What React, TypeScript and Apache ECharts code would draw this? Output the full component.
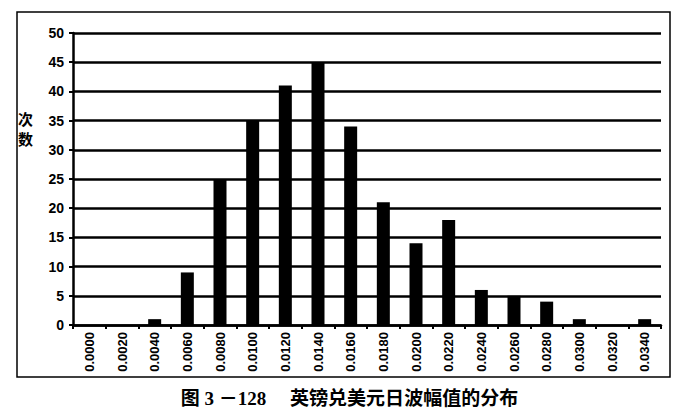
import * as echarts from "echarts";
import React, { useEffect, useRef } from "react";

const categories = [
  "0.0000", "0.0020", "0.0040", "0.0060", "0.0080", "0.0100",
  "0.0120", "0.0140", "0.0160", "0.0180", "0.0200", "0.0220",
  "0.0240", "0.0260", "0.0280", "0.0300", "0.0320", "0.0340",
];
const counts = [0, 0, 1, 9, 25, 35, 41, 45, 34, 21, 14, 18, 6, 5, 4, 1, 0, 1];
const yTicks = [0, 5, 10, 15, 20, 25, 30, 35, 40, 45, 50];

const App: React.FC = () => {
  const chartRef = useRef<HTMLDivElement | null>(null);

  useEffect(() => {
    if (!chartRef.current) return;
    const chart = echarts.init(chartRef.current, undefined, { renderer: "svg" });

    const option: echarts.EChartsOption = {
      animation: false,
      backgroundColor: "#fff",
      grid: { left: 73, right: 38, top: 33, bottom: 92 },
      graphic: [
        {
          type: "rect",
          shape: { x: 17, y: 12, width: 653, height: 365 },
          style: { fill: "none", stroke: "#000", lineWidth: 1.5 },
        },
        {
          type: "text",
          left: 18,
          top: 108,
          style: {
            text: "次\n数",
            font: "bold 15px 'Noto Sans CJK SC'",
            fill: "#000",
            lineHeight: 20,
          },
        },
        {
          type: "text",
          left: "center",
          top: 389,
          style: {
            text: "图 3 －128　 英镑兑美元日波幅值的分布",
            font: "bold 19px 'Liberation Serif', 'Noto Sans CJK SC'",
            fill: "#000",
          },
        },
      ],
      xAxis: {
        type: "category",
        data: categories,
        axisLine: { lineStyle: { color: "#000", width: 2.5 } },
        axisTick: { show: true, length: 4, lineStyle: { color: "#000", width: 2 } },
        axisLabel: {
          interval: 0,
          rotate: 90,
          margin: 7,
          fontSize: 13,
          fontWeight: "bold",
          fontFamily: "'Liberation Sans', Arial",
          color: "#000",
        },
      },
      yAxis: {
        type: "value",
        min: yTicks[0],
        max: yTicks[yTicks.length - 1],
        interval: 5,
        axisLine: { show: true, lineStyle: { color: "#000", width: 2.5 } },
        axisTick: { show: true, length: 4, lineStyle: { color: "#000", width: 2 } },
        axisLabel: {
          margin: 9,
          fontSize: 14,
          fontWeight: "bold",
          fontFamily: "'Liberation Sans', Arial",
          color: "#000",
        },
        splitLine: { show: true, lineStyle: { color: "#000", width: 2.5 } },
      },
      series: [
        {
          type: "bar",
          data: counts,
          barWidth: 13,
          itemStyle: { color: "#000" },
        },
      ],
    };

    chart.setOption(option);
    return () => chart.dispose();
  }, []);

  return (
    <div
      ref={chartRef}
      style={{ position: "fixed", left: 0, top: 0, width: 699, height: 417, background: "#fff" }}
    />
  );
};

export default App;
